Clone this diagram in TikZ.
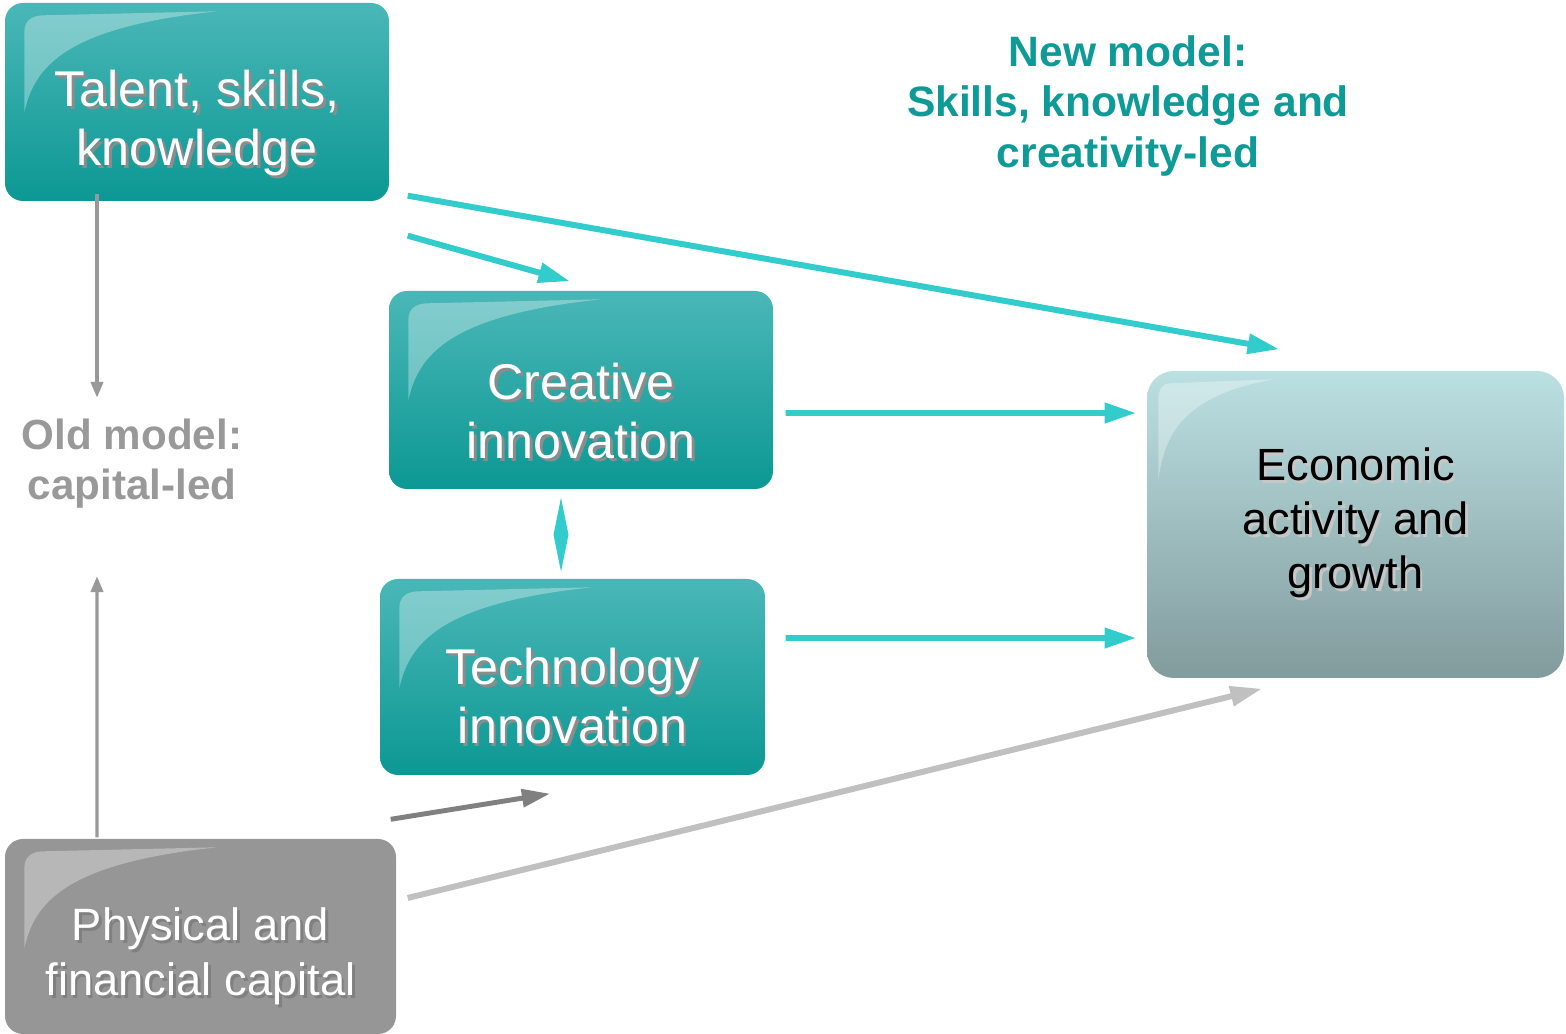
\documentclass[tikz,border=0pt]{standalone}
\usepackage{fontspec}
\setmainfont{Liberation Sans}
\usetikzlibrary{arrows.meta, calc}

\definecolor{teallight}{HTML}{4AB7B7}
\definecolor{tealdark}{HTML}{0C9894}
\definecolor{newteal}{HTML}{0E9A96}
\definecolor{arrowcyan}{HTML}{33CCCC}
\definecolor{oldgray}{HTML}{999999}
\definecolor{capgray}{HTML}{969696}
\definecolor{darkarrowgray}{HTML}{808080}
\definecolor{lightarrowgray}{HTML}{C0C0C0}
\definecolor{ecotop}{HTML}{BBE0E2}
\definecolor{ecobot}{HTML}{829B9D}

\newcommand{\txtshadow}[2][black!45]{\leavevmode\rlap{\kern0.8pt\raisebox{-0.8pt}{\textcolor{#1}{#2}}}#2}
\newcommand{\glossy}[2][1]{\fill[glossfill, shift={(#2.north west)}, xscale=#1] (0.20,-1.10) -- (0.20,-0.30) .. controls (0.20,-0.18) and (0.28,-0.13) .. (0.40,-0.13) -- (2.13,-0.09) .. controls (0.60,-0.25) and (0.30,-0.65) .. (0.20,-1.10) -- cycle;}
\newcommand{\topgap}[1]{\rule{0pt}{#1}}

\begin{document}
\begin{tikzpicture}[
    box/.style={rounded corners=0.18cm, top color=teallight, bottom color=tealdark, text=white, align=center, inner sep=0pt, minimum width=3.84cm, minimum height=1.98cm, font=\fontsize{14.3}{16.8}\selectfont},
    capbox/.style={rounded corners=0.18cm, fill=capgray, text=white, align=center, inner sep=0pt, minimum width=3.91cm, minimum height=1.95cm, font=\fontsize{12.9}{15.6}\selectfont},
    ecobox/.style={rounded corners=0.27cm, top color=ecotop, bottom color=ecobot, text=black, align=center, inner sep=0pt, minimum width=4.17cm, minimum height=3.07cm, font=\fontsize{12.85}{15.4}\selectfont},
    glossfill/.style={fill=white, fill opacity=0.32},
    newtext/.style={text=newteal, align=center, inner sep=0pt, font=\bfseries\fontsize{12.1}{14.5}\selectfont},
    oldtext/.style={text=oldgray, align=center, inner sep=0pt, font=\bfseries\fontsize{12}{14.2}\selectfont},
    newarrow/.style={draw=arrowcyan, line width=1.7pt, -{Triangle[length=9pt,width=5.5pt]}},
    oldarrow/.style={draw=oldgray, line width=0.9pt, -{Triangle[length=4.5pt,width=3.5pt]}},
    darkarrow/.style={draw=darkarrowgray, line width=1.4pt, -{Triangle[length=8pt,width=5pt]}},
    lightarrow/.style={draw=lightarrowgray, line width=1.7pt, -{Triangle[length=9pt,width=5.5pt]}}
  ]
  \useasboundingbox (0,0) rectangle (15.66,-10.34);

  \node[box] (tal) at (1.97,-1.02) {\topgap{23pt}\txtshadow{Talent, skills,}\\\txtshadow{knowledge}};
  \glossy{tal}

  \node[box] (cre) at (5.81,-3.90) {\topgap{23pt}\txtshadow{Creative}\\\txtshadow{innovation}};
  \glossy{cre}

  \node[box, minimum width=3.85cm, minimum height=1.96cm] (tec) at (5.725,-6.77) {\topgap{22pt}\txtshadow{Technology}\\\txtshadow{innovation}};
  \glossy{tec}

  \node[capbox] (phy) at (2.005,-9.365) {\topgap{21.5pt}\txtshadow[black!50]{Physical and}\\\txtshadow[black!50]{financial capital}};
  \glossy{phy}

  \node[ecobox] (eco) at (13.555,-5.245) {\txtshadow[black!22]{Economic}\\\txtshadow[black!22]{activity and}\\\txtshadow[black!22]{growth}};
  \glossy[0.6]{eco}

  \node[newtext] (newm) at (11.28,-1.06) {New model:\\Skills, knowledge and\\creativity-led};
  \node[oldtext] (oldm) at (1.32,-4.64) {Old model:\\capital-led};

  \draw[newarrow] ($(tal.south east)+(0.18,0.06)$) -- ($(eco.north west)+(1.33,0.21)$);
  \draw[newarrow] ($(tal.south east)+(0.18,-0.34)$) -- ($(cre.north)+(-0.11,0.09)$);
  \draw[newarrow] ($(cre.east)+(0.12,-0.23)$) -- ($(eco.west)+(-0.10,1.115)$);
  \draw[newarrow] ($(tec.east)+(0.20,0.39)$) -- ($(eco.west)+(-0.10,-1.135)$);
  \fill[arrowcyan] ($(cre.south)+(-0.20,-0.08)$) -- ++(0.075,-0.37) -- ++(-0.075,-0.37) -- ++(-0.075,0.37) -- cycle;

  \draw[oldarrow] ($(tal.south)+(-1.00,0.08)$) -- ($(oldm.north)+(-0.35,0.21)$);
  \draw[oldarrow] ($(phy.north)+(-1.035,0.01)$) -- ($(oldm.south)+(-0.35,-0.67)$);
  \draw[darkarrow] ($(phy.north east)+(-0.06,0.19)$) -- ($(tec.south)+(-0.225,-0.18)$);
  \draw[lightarrow] ($(phy.east)+(0.11,0.385)$) -- ($(eco.south)+(-0.935,-0.10)$);
\end{tikzpicture}
\end{document}
